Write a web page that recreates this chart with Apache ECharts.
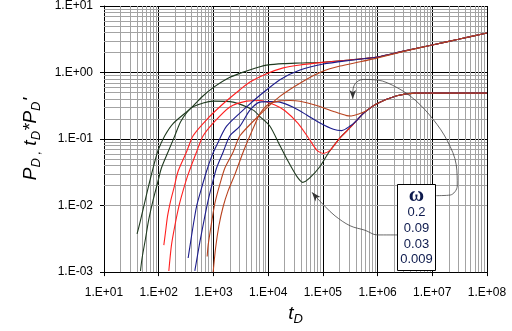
<!DOCTYPE html>
<html>
<head>
<meta charset="utf-8">
<script src="https://cdn.jsdelivr.net/npm/echarts@6/dist/echarts.min.js"></script>
<style>
html, body { margin: 0; padding: 0; background: #fff; }
#main { width: 512px; height: 331px; }
</style>
</head>
<body>
<div id="main"></div>
<script>
// tick labels
var xTickLabels = ['1.E+01', '1.E+02', '1.E+03', '1.E+04', '1.E+05', '1.E+06', '1.E+07', '1.E+08'];
var yTickLabels = ['1.E-03', '1.E-02', '1.E-01', '1.E+00', '1.E+01'];
var omegaLabels = ['0.2', '0.09', '0.03', '0.009'];

// [tD, value]
// omega 0.009 (dark green)
var pD_009 = [[40.2,0.00375],[43.2,0.00469],[48.4,0.00693],[54,0.0102],[62.3,0.0168],[73.7,0.0294],[84.8,0.0458],[97.3,0.0676],[129,0.112],[183,0.171],[398,0.296],[607,0.425],[989,0.592],[2000,0.847],[4045,1.055],[7080,1.22],[9390,1.29],[18900,1.36],[38200,1.39],[1e5,1.43],[3e5,1.54],[1e6,1.71],[3e6,2.1],[1e7,2.6],[3e7,3.16],[1e8,3.93]];
var dD_009 = [[46.4,0.00104],[49.7,0.00163],[57.3,0.00317],[65.8,0.00618],[78.8,0.012],[97.3,0.0235],[112,0.0367],[148,0.064],[197,0.112],[253,0.184],[398,0.296],[649,0.348],[989,0.372],[2296,0.359],[5330,0.272],[7080,0.218],[10800,0.156],[16400,0.08],[23300,0.0458],[33200,0.0277],[42800,0.0223],[58300,0.0263],[88700,0.0387],[1.3e5,0.064],[2.06e5,0.1045],[2.73e5,0.132],[3.61e5,0.168],[5.51e5,0.243],[9.68e5,0.339],[2.25e6,0.449],[4.87e6,0.49],[1e8,0.49]];
// omega 0.03 (red)
var pD_03 = [[124,0.00255],[133,0.00397],[145,0.00693],[166,0.012],[191,0.0188],[226,0.0328],[322,0.064],[425,0.112],[748,0.195],[1507,0.339],[3050,0.55],[4645,0.72],[9390,0.96],[18900,1.175],[38200,1.3],[1e5,1.42],[3e5,1.54],[1e6,1.71],[3e6,2.1],[1e7,2.6],[3e7,3.16],[1e8,3.93]];
var dD_03 = [[153,0.00104],[171,0.00255],[197,0.00497],[233,0.00968],[279,0.0168],[345,0.0294],[491,0.064],[649,0.112],[989,0.174],[2000,0.304],[4045,0.372],[7000,0.38],[13300,0.325],[20300,0.266],[35200,0.172],[55800,0.101],[78300,0.0676],[1.02e5,0.0607],[1.35e5,0.0676],[2.06e5,0.1045],[2.73e5,0.132],[3.61e5,0.168],[5.51e5,0.243],[9.68e5,0.339],[2.25e6,0.449],[4.87e6,0.49],[1e8,0.49]];
// omega 0.09 (blue)
var pD_09 = [[345,0.00163],[371,0.0024],[426,0.00497],[491,0.00968],[589,0.0168],[748,0.0328],[948,0.0573],[1141,0.08],[1740,0.156],[4045,0.304],[7080,0.455],[16400,0.78],[38200,1.09],[1.02e5,1.34],[3e5,1.52],[1e6,1.71],[3e6,2.1],[1e7,2.6],[3e7,3.16],[1e8,3.93]];
var dD_09 = [[457,0.00104],[565,0.00284],[697,0.00693],[801,0.012],[948,0.021],[1141,0.0367],[1507,0.064],[2000,0.112],[3050,0.156],[4645,0.272],[7080,0.359],[10800,0.365],[16400,0.359],[28800,0.3],[50700,0.23],[88700,0.174],[1.56e5,0.14],[2.22e5,0.134],[3.15e5,0.157],[4e5,0.185],[5.51e5,0.243],[9.68e5,0.339],[2.25e6,0.449],[4.87e6,0.49],[1e8,0.49]];
// omega 0.2 (brown)
var pD_2 = [[768,0.00172],[801,0.00255],[925,0.00555],[1062,0.0108],[1312,0.021],[1620,0.0367],[2296,0.064],[3050,0.112],[7080,0.233],[16400,0.438],[43900,0.741],[1.02e5,1.055],[2.06e5,1.25],[4.8e5,1.45],[1e6,1.66],[3e6,2.08],[1e7,2.6],[3e7,3.16],[1e8,3.93]];
var dD_2 = [[989,0.001],[1094,0.00228],[1259,0.00497],[1507,0.00968],[1862,0.0168],[2468,0.0294],[3500,0.064],[4645,0.112],[5800,0.17],[7080,0.24],[10000,0.33],[16400,0.375],[25000,0.38],[38200,0.37],[77000,0.32],[1.58e5,0.26],[2.73e5,0.225],[3.3e5,0.222],[4.5e5,0.238],[6e5,0.262],[9.68e5,0.339],[2.25e6,0.449],[4.87e6,0.49],[1e8,0.49]];

// annotation arrows (data coordinates)
var arrowToDips = [[1.18e7,0.0141],[2.13e7,0.0144],[2.86e7,0.0197],[2.74e7,0.041],[1.88e7,0.0944],[1.04e7,0.197],[4.87e6,0.384],[2.28e6,0.592],[9.8e5,0.773],[5.45e5,0.787],[3.88e5,0.676],[3.52e5,0.485],[3.52e5,0.40]];
var arrowToMin = [[2.35e6,0.00362],[9.8e5,0.00362],[5.92e5,0.00425],[3.15e5,0.00497],[1.67e5,0.007],[1.1e5,0.00968],[7.5e4,0.0135],[6.34e4,0.0158]];

var minorX = [], minorY = [];
for (var e = 1; e < 8; e++) for (var k = 2; k < 10; k++) minorX.push(k * Math.pow(10, e));
for (var e2 = -3; e2 < 1; e2++) for (var k2 = 2; k2 < 10; k2++) minorY.push(k2 * Math.pow(10, e2));

var green = '#1f3a1f', red = '#ff2020', blue = '#1c1c8c', brown = '#b8421e';

function curve(name, data, color) {
    return {
        name: name, type: 'line', data: data, symbol: 'none', smooth: 0.25,
        lineStyle: { color: color, width: 1.1 }, z: 3, silent: true
    };
}
function arrow(data, rot) {
    var d = data.slice(0, -1);
    var last = data[data.length - 1];
    d.push({ value: last, symbol: 'arrow', symbolSize: [5, 9], symbolRotate: rot, itemStyle: { color: '#333' } });
    return {
        type: 'line', data: d, symbol: 'none', smooth: 0.35, silent: true,
        lineStyle: { color: '#444', width: 0.8 }, z: 4
    };
}

var fnt = 'Liberation Sans';
var nameRich = {
    i: { fontFamily: fnt, fontStyle: 'italic', fontSize: 19, color: '#000', lineHeight: 20, verticalAlign: 'top' },
    s: { fontFamily: fnt, fontStyle: 'italic', fontSize: 13, color: '#000', lineHeight: 13, padding: [9, 0, 0, 0], verticalAlign: 'top' }
};
var myChart = echarts.init(document.getElementById('main'));
var option = {
    animation: false,
    grid: { left: 104, right: 25, top: 5, bottom: 50 },
    xAxis: {
        type: 'log', logBase: 10, min: 10, max: 1e8, splitNumber: 7,
        axisLine: { lineStyle: { color: '#000', width: 1 } },
        axisTick: { show: true, length: 4, lineStyle: { color: '#000' } },
        axisLabel: {
            margin: 15, color: '#000', fontFamily: fnt, fontSize: 12,
            formatter: function (v) { return xTickLabels[Math.round(Math.log10(v)) - 1]; }
        },
        splitLine: { show: true, lineStyle: { color: '#000', width: 1 } },
        name: '{i|t}{s|D}', nameLocation: 'middle', nameGap: 29,
        nameTextStyle: { rich: nameRich }
    },
    yAxis: {
        type: 'log', logBase: 10, min: 0.001, max: 10, splitNumber: 4,
        axisLine: { show: true, lineStyle: { color: '#000', width: 1 } },
        axisTick: { show: true, length: 4, lineStyle: { color: '#000' } },
        axisLabel: {
            margin: 11, color: '#000', fontFamily: fnt, fontSize: 12,
            formatter: function (v) { return yTickLabels[Math.round(Math.log10(v)) + 3]; }
        },
        splitLine: { show: true, lineStyle: { color: '#000', width: 1 } },
        name: "{i|P}{s|D ,}{i| t}{s|D}{i|*P}{s|D}{i|'}", nameLocation: 'middle', nameGap: 63, nameRotate: 90,
        nameTextStyle: { rich: nameRich }
    },
    graphic: [{
        type: 'group', left: 397, top: 184, z: 100,
        children: [
            { type: 'rect', z: 100, shape: { x: 0, y: 0, width: 38, height: 86 }, style: { fill: '#fff', stroke: '#000', lineWidth: 1 } },
            {
                type: 'text', z: 101, x: 19, y: 3,
                style: {
                    text: '{w|ω}\n' + omegaLabels.join('\n'),
                    align: 'center', textAlign: 'center', verticalAlign: 'top',
                    fill: '#0d1a4d', font: '13px "Liberation Sans"', lineHeight: 15.8,
                    rich: { w: { fontFamily: 'Liberation Serif', fontSize: 21, fontWeight: 'bold', lineHeight: 17, fill: '#0d1a4d' } }
                }
            }
        ]
    }],
    series: [
        {
            type: 'line', data: [], z: 1, silent: true,
            markLine: {
                z: 1, silent: true, symbol: ['none', 'none'], label: { show: false }, animation: false,
                emphasis: { disabled: true },
                lineStyle: { color: '#a3a3a3', width: 1, type: 'solid' },
                data: minorX.map(function (v) { return { xAxis: v }; })
                    .concat(minorY.map(function (v) { return { yAxis: v }; }))
            }
        },
        curve('PD w=0.009', pD_009, green),
        curve('tDPD w=0.009', dD_009, green),
        curve('PD w=0.03', pD_03, red),
        curve('tDPD w=0.03', dD_03, red),
        curve('PD w=0.09', pD_09, blue),
        curve('tDPD w=0.09', dD_09, blue),
        curve('PD w=0.2', pD_2, brown),
        curve('tDPD w=0.2', dD_2, brown),
        arrow(arrowToDips, 180),
        arrow(arrowToMin, 40)
    ]
};
myChart.setOption(option);
</script>
</body>
</html>
